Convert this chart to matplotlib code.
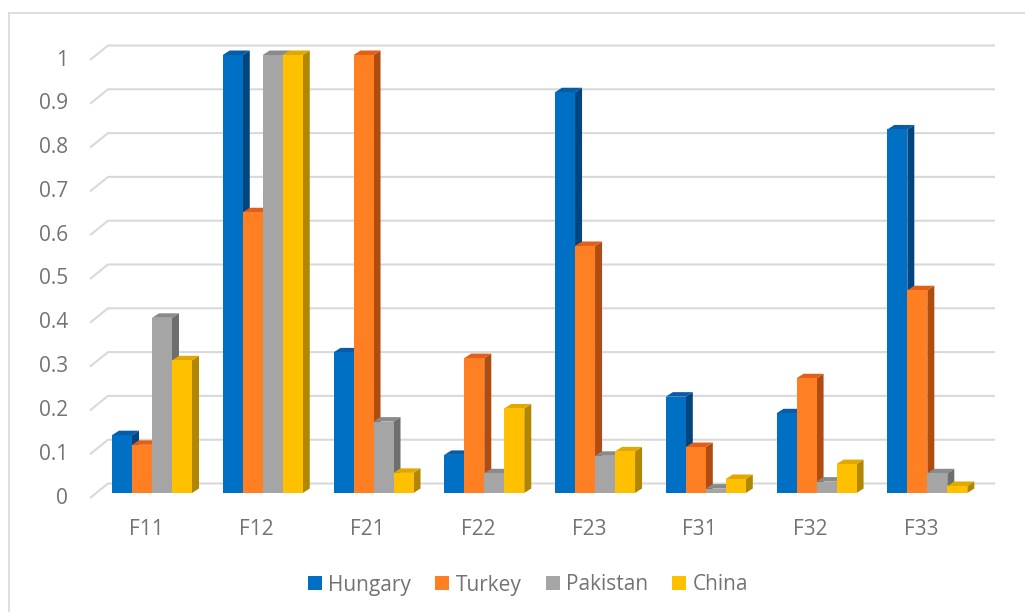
import matplotlib
matplotlib.use("Agg")
import matplotlib.pyplot as plt
from matplotlib.patches import Polygon, Patch
from matplotlib.lines import Line2D
import numpy as np

categories = ["F11", "F12", "F21", "F22", "F23", "F31", "F32", "F33"]
series_names = ["Hungary", "Turkey", "Pakistan", "China"]
hungary = [0.132, 1.0, 0.321, 0.087, 0.915, 0.220, 0.182, 0.830]
turkey = [0.110, 0.641, 1.0, 0.308, 0.564, 0.105, 0.262, 0.463]
pakistan = [0.400, 1.0, 0.163, 0.045, 0.085, 0.010, 0.026, 0.045]
china = [0.303, 1.0, 0.046, 0.193, 0.095, 0.032, 0.066, 0.016]
y_ticks = [0, 0.1, 0.2, 0.3, 0.4, 0.5, 0.6, 0.7, 0.8, 0.9, 1]
y_tick_labels = ["0", "0.1", "0.2", "0.3", "0.4", "0.5", "0.6", "0.7", "0.8", "0.9", "1"]

front_colors = ["#0070C4", "#FF7F22", "#A5A5A5", "#FFC000"]
side_colors = ["#00457F", "#B04C10", "#6E6E6E", "#B38600"]
top_colors = ["#0A5BA5", "#E0601A", "#8A8A8A", "#E0A800"]

text_color = "#737373"
grid_color = "#D9D9D9"
plt.rcParams["font.family"] = ["Open Sans", "DejaVu Sans"]
FS = 15

W, H = 1025, 612
fig = plt.figure(figsize=(W / 100, H / 100), dpi=100)

px_left, px_right, py_top, py_bot = 85, 1000, 30, 505
x0_px, step_px = 152.0, 110.76
y0_px, unit_px = 493.0, 438.0
ax = fig.add_axes([px_left / W, (H - py_bot) / H, (px_right - px_left) / W, (py_bot - py_top) / H])
ax.set_xlim((px_left - x0_px) / step_px, (px_right - x0_px) / step_px)
ax.set_ylim((y0_px - py_bot) / unit_px, (y0_px - py_top) / unit_px)
ax.axis("off")

dx = 7 / step_px
dy = 4.5 / unit_px
back_dy = 9.5 / unit_px
front_dy = -5 / unit_px
grid_x_front = (90 - x0_px) / step_px
grid_x_back = (108 - x0_px) / step_px
grid_x_end = (995 - x0_px) / step_px

for v in y_ticks:
    ax.plot([grid_x_front, grid_x_back, grid_x_end], [v + front_dy, v + back_dy, v + back_dy],
            color=grid_color, lw=1.5, zorder=1, solid_capstyle="butt")

lab_x = (68 - x0_px) / step_px
for v, s in zip(y_ticks, y_tick_labels):
    ax.text(lab_x, v + front_dy, s, ha="right", va="center", fontsize=FS, color=text_color, clip_on=False)

data = [hungary, turkey, pakistan, china]
bw = 20 / step_px
x = np.arange(len(categories))
z = 2
for ci in range(len(categories)):
    for si, vals in enumerate(data):
        left = x[ci] - 2 * bw + si * bw
        right = left + bw
        h = vals[ci]
        side = Polygon([(right, 0), (right + dx, dy), (right + dx, h + dy), (right, h)],
                       closed=True, facecolor=side_colors[si], edgecolor="none", zorder=z)
        top = Polygon([(left, h), (right, h), (right + dx, h + dy), (left + dx, h + dy)],
                      closed=True, facecolor=top_colors[si], edgecolor="none", zorder=z)
        ax.add_patch(side)
        ax.add_patch(top)
        ax.bar(left, h, width=bw, align="edge", color=front_colors[si], edgecolor="none", zorder=z + 0.5)
        z += 1

lab_y = (y0_px - 529.5) / unit_px
for i, c in enumerate(categories):
    ax.text(x[i] - 6 / step_px, lab_y, c, ha="center", va="center", fontsize=FS, color=text_color, clip_on=False)

handles = [Patch(facecolor=front_colors[i], edgecolor="none", label=series_names[i]) for i in range(4)]
leg = fig.legend(handles=handles, loc="center", bbox_to_anchor=(528 / W, 1 - 585 / H), ncol=4,
                 frameon=False, fontsize=FS, handlelength=0.68, handleheight=0.68,
                 handletextpad=0.3, columnspacing=1.15, borderaxespad=0)
for t in leg.get_texts():
    t.set_color(text_color)

fig.add_artist(Line2D([8.5 / W, 8.5 / W], [0, (H - 13) / H], color=grid_color, lw=1.2, transform=fig.transFigure))
fig.add_artist(Line2D([8.5 / W, 1.0], [(H - 13) / H, (H - 13) / H], color=grid_color, lw=1.2, transform=fig.transFigure))

fig.savefig("out.png", dpi=100, facecolor="white")
